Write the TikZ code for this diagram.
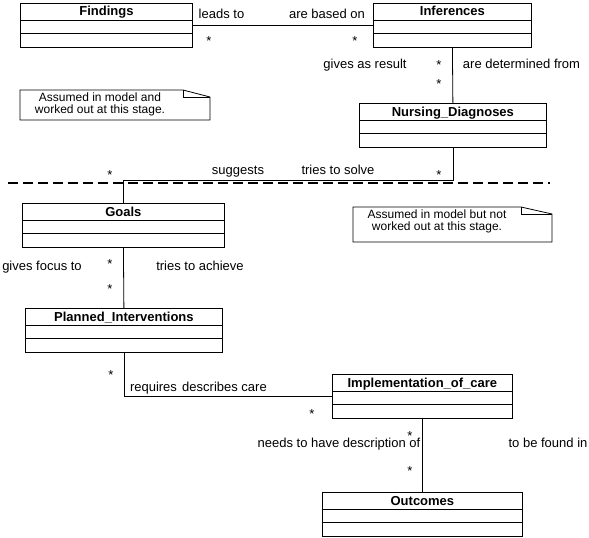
\documentclass[tikz,border=0pt]{standalone}
\usepackage{fontspec}
\setmainfont{Liberation Sans}
\tikzset{
	classbox/.style={draw, line width=0.8pt, anchor=north west, minimum height=44pt, inner sep=0pt},
	classname/.style={font=\fontsize{13}{15}\selectfont\bfseries, anchor=base, inner sep=0pt},
	rolelabel/.style={font=\fontsize{13}{15}\selectfont, anchor=base, inner sep=0pt},
	notetext/.style={font=\fontsize{12}{12}\selectfont, align=center, inner sep=0pt},
	stageline/.style={line width=1.6pt, dash pattern=on 10pt off 5pt}
}

\begin{document}
\begin{tikzpicture}[x=1pt, y=-1pt, line width=0.8pt]
		\useasboundingbox (0,0) rectangle (589,538);
		%				\draw [help lines] (0,0) grid (589,538);
		\foreach \name/\x/\y/\w/\cname in {find/20/3/172/Findings, infer/373/3/158/Inferences, diag/359/103/187/Nursing\_Diagnoses, goals/22/203/202/Goals, interv/25/308/197/Planned\_Interventions, impl/332/374/180/Implementation\_of\_care, outc/322/492/200/Outcomes}
		{
			\node [classbox, minimum width=\w pt] (\name) at (\x,\y) {};
			\node [classname] (\name-title) at ([yshift=-13pt]\name.north) {\cname};
			\draw (\name.north west) ++(0,17) -- ++(\w,0);
			\draw (\name.north west) ++(0,30) -- ++(\w,0);
		}
		\draw (find.east) -- (infer.west);
		\draw (infer.south) -- (diag.north);
		\draw (diag.south) -- ++(0,33) -| (goals.north);
		\draw (goals.south) -- (interv.north);
		\draw (interv.south) |- (impl.west);
		\draw (impl.south) -- (outc.north);
		\coordinate (cutleft) at (8,183);
		\coordinate (cutright) at (550,183);
		\draw [stageline] (cutleft) -- (cutright);
		\foreach \x/\y/\txt [count=\i] in {221.5/18/leads to, 327/18/are based on, 365/68/gives as result, 521.5/68/are determined from, 238/174/suggests, 338/174/tries to solve, 42/270/gives focus to, 200/270/tries to achieve, 153.5/391/requires, 224.5/391/describes care, 339/447/needs to have description of, 548/447/to be found in}
			\node [rolelabel] (role\i) at (\x,\y) {\txt};
		\foreach \x/\y [count=\i] in {209/45.5, 355/45.5, 439/69.5, 439/88.5, 110/179.5, 439/179.5, 110/268.5, 110/293.5, 111/379.5, 312/418.5, 410/440.5, 410/475.5}
			\node [rolelabel] (mult\i) at (\x,\y) {*};
		\draw (20,90) -- (183,90) -- (210,97) -- (210,120) -- (20,120) -- cycle;
		\draw (183,90) -- (183,97) -- (210,97);
		\node [notetext] (note1) at (100,104) {Assumed in model and\\worked out at this stage.};
		\draw (353,207) -- (521,207) -- (552,214) -- (552,242) -- (353,242) -- cycle;
		\draw (521,207) -- (521,214) -- (552,214);
		\node [notetext] (note2) at (437,221) {Assumed in model but not\\worked out at this stage.};
	\end{tikzpicture}
\end{document}
